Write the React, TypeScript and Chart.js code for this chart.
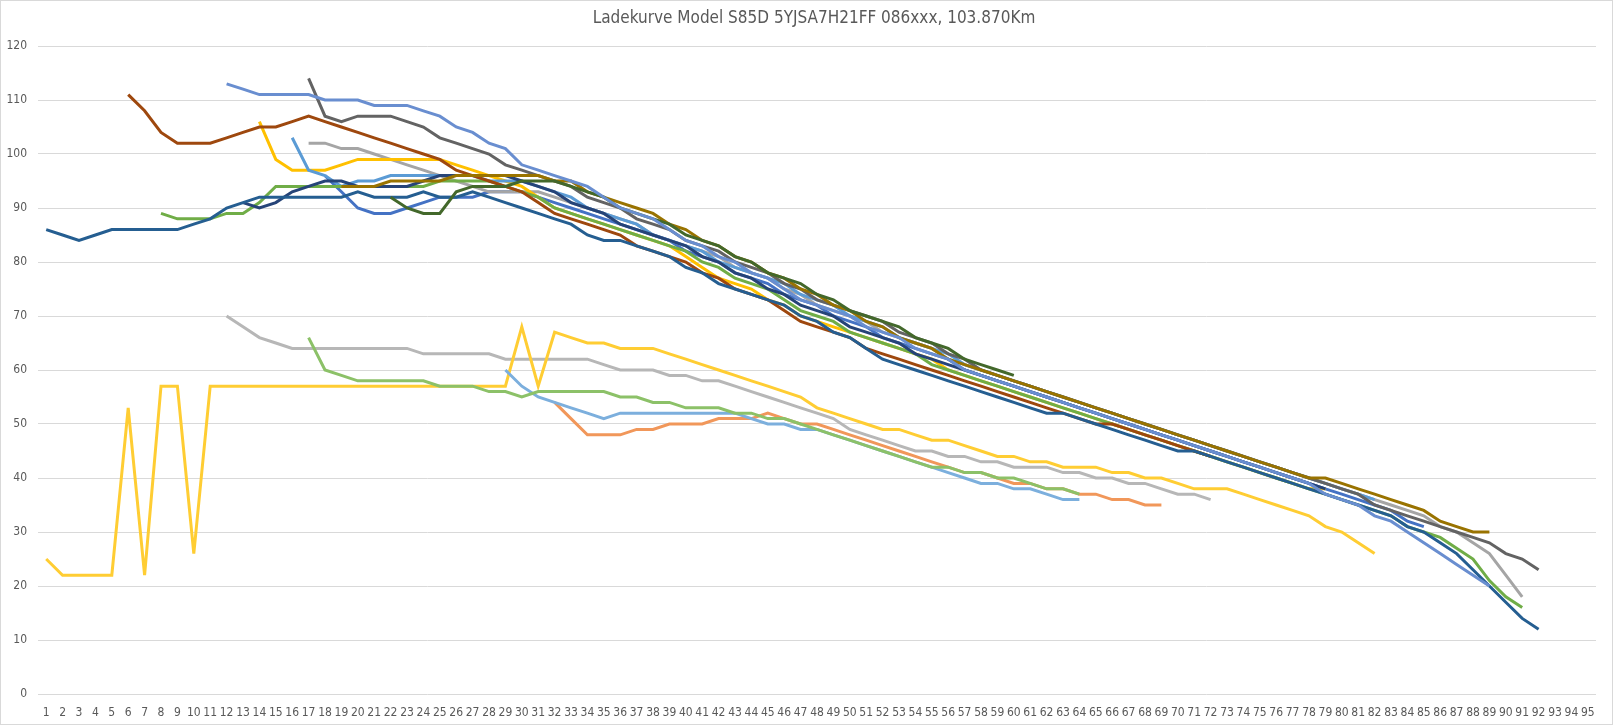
import React, { useEffect, useRef } from "react";
import Chart from "chart.js/auto";

const chartTitle = "Ladekurve Model S85D 5YJSA7H21FF 086xxx, 103.870Km";
const categories = Array.from({ length: 95 }, (_, i) => String(i + 1));
const fontFamily = "'Liberation Sans Narrow', 'DejaVu Sans Condensed', 'Liberation Sans', sans-serif";

// each curve: first category it appears in, then its values
const blueMidStart = 18;
const blueMid = [96, 93, 90, 89, 89, 90, 91, 92, 92, 92, 93, 93, 93, 92, 91, 90, 89, 88, 87, 86, 85, 84, 82, 81, 80, 78, 77, 76, 74, 73, 72, 70, 69, 68, 66, 65, 64, 63, 62, 60, 59, 58, 57, 56, 55, 54, 53, 52, 51, 50, 49, 48, 47, 46, 45, 44, 43, 42, 41, 40, 39, 38, 37, 36, 35, 34, 32, 31];

const grayTopStart = 17;
const grayTop = [102, 102, 101, 101, 100, 99, 98, 97, 96, 95, 94, 93, 93, 93, 93, 92, 91, 90, 89, 88, 87, 85, 84, 83, 82, 81, 79, 78, 77, 75, 74, 72, 71, 70, 69, 67, 66, 65, 64, 62, 61, 60, 59, 58, 57, 56, 55, 54, 53, 52, 51, 50, 49, 48, 47, 46, 45, 44, 43, 42, 41, 40, 39, 38, 37, 36, 35, 34, 33, 31, 30, 28, 26, 22, 18];

const yellowTopStart = 14;
const yellowTop = [106, 99, 97, 97, 97, 98, 99, 99, 99, 99, 99, 99, 98, 97, 96, 95, 94, 92, 90, 89, 88, 87, 86, 85, 84, 83, 81, 79, 77, 76, 75, 73, 72, 70, 69, 68, 67, 66, 65, 64, 63, 62, 60, 59, 58, 57, 56, 55, 54, 53, 52, 51, 50, 49, 48, 47, 46, 45, 44, 43, 42, 41, 40, 39, 38, 38];

const lightBlueStart = 16;
const lightBlue = [103, 97, 96, 94, 95, 95, 96, 96, 96, 96, 96, 96, 95, 95, 95, 94, 93, 92, 90, 89, 88, 87, 85, 84, 83, 82, 80, 79, 78, 77, 76, 74, 73, 72, 70, 69, 68, 66, 65, 64, 63, 61, 60, 59, 58, 57, 56, 55, 54, 53, 52, 51, 50, 49, 48, 47, 46, 45, 44, 43, 42, 41, 40, 39, 38, 37, 36];

const greenStart = 8;
const green = [89, 88, 88, 88, 89, 89, 91, 94, 94, 94, 94, 94, 94, 94, 94, 94, 94, 95, 95, 95, 95, 94, 93, 92, 90, 89, 88, 87, 86, 85, 84, 83, 82, 80, 79, 77, 76, 75, 73, 71, 70, 69, 67, 66, 65, 64, 63, 61, 60, 59, 58, 57, 56, 55, 54, 53, 52, 51, 50, 49, 48, 47, 46, 45, 44, 43, 42, 41, 40, 39, 38, 37, 36, 35, 34, 33, 31, 30, 29, 27, 25, 21, 18, 16];

const navyStart = 13;
const navy = [91, 90, 91, 93, 94, 95, 95, 94, 94, 94, 94, 95, 96, 96, 96, 96, 96, 95, 94, 93, 91, 90, 89, 87, 86, 85, 84, 83, 81, 80, 78, 77, 75, 74, 72, 71, 70, 68, 67, 66, 65, 63, 62, 61, 60, 59, 58, 57, 56, 55, 54, 53, 52, 51, 50, 49, 48, 47, 46, 45, 44, 43, 42, 41, 40, 39, 38];

const brownStart = 6;
const brown = [111, 108, 104, 102, 102, 102, 103, 104, 105, 105, 106, 107, 106, 105, 104, 103, 102, 101, 100, 99, 97, 96, 95, 94, 93, 91, 89, 88, 87, 86, 85, 83, 82, 81, 80, 78, 77, 75, 74, 73, 71, 69, 68, 67, 66, 64, 63, 62, 61, 60, 59, 58, 57, 56, 55, 54, 53, 52, 51, 50, 50, 49, 48, 47, 46, 45, 44];

const darkGrayStart = 17;
const darkGray = [114, 107, 106, 107, 107, 107, 106, 105, 103, 102, 101, 100, 98, 97, 96, 95, 94, 92, 91, 90, 88, 87, 86, 84, 83, 82, 80, 79, 78, 76, 75, 73, 72, 71, 70, 69, 67, 66, 65, 63, 62, 60, 59, 58, 57, 56, 55, 54, 53, 52, 51, 50, 49, 48, 47, 46, 45, 44, 43, 42, 41, 40, 39, 38, 37, 35, 34, 33, 32, 31, 30, 29, 28, 26, 25, 23];

const goldStart = 19;
const gold = [94, 94, 94, 95, 95, 95, 95, 96, 96, 96, 96, 96, 96, 95, 95, 93, 92, 91, 90, 89, 87, 86, 84, 83, 81, 80, 78, 77, 75, 74, 72, 71, 69, 68, 66, 65, 64, 62, 61, 60, 59, 58, 57, 56, 55, 54, 53, 52, 51, 50, 49, 48, 47, 46, 45, 44, 43, 42, 41, 40, 40, 39, 38, 37, 36, 35, 34, 32, 31, 30, 30];

const longBlueStart = 1;
const longBlue = [86, 85, 84, 85, 86, 86, 86, 86, 86, 87, 88, 90, 91, 92, 92, 92, 92, 92, 92, 93, 92, 92, 92, 93, 92, 92, 93, 92, 91, 90, 89, 88, 87, 85, 84, 84, 83, 82, 81, 79, 78, 76, 75, 74, 73, 72, 70, 69, 67, 66, 64, 62, 61, 60, 59, 58, 57, 56, 55, 54, 53, 52, 52, 51, 50, 49, 48, 47, 46, 45, 45, 44, 43, 42, 41, 40, 39, 38, 37, 36, 35, 34, 33, 31, 30, 28, 26, 23, 20, 17, 14, 12];

const darkGreenStart = 22;
const darkGreen = [92, 90, 89, 89, 93, 94, 94, 94, 95, 95, 95, 94, 93, 92, 90, 89, 88, 87, 85, 84, 83, 81, 80, 78, 77, 76, 74, 73, 71, 70, 69, 68, 66, 65, 64, 62, 61, 60, 59];

const blueTopStart = 12;
const blueTop = [113, 112, 111, 111, 111, 111, 110, 110, 110, 109, 109, 109, 108, 107, 105, 104, 102, 101, 98, 97, 96, 95, 94, 92, 90, 89, 88, 86, 84, 83, 81, 80, 78, 77, 75, 73, 72, 71, 70, 68, 67, 66, 64, 63, 62, 60, 59, 58, 57, 56, 55, 54, 53, 52, 51, 50, 49, 48, 47, 46, 45, 44, 43, 42, 41, 40, 39, 37, 36, 35, 33, 32, 30, 28, 26, 24, 22, 20];

const orangeLowStart = 32;
const orangeLow = [54, 51, 48, 48, 48, 49, 49, 50, 50, 50, 51, 51, 51, 52, 51, 50, 50, 49, 48, 47, 46, 45, 44, 43, 42, 41, 41, 40, 39, 39, 38, 38, 37, 37, 36, 36, 35, 35];

const grayLowStart = 12;
const grayLow = [70, 68, 66, 65, 64, 64, 64, 64, 64, 64, 64, 64, 63, 63, 63, 63, 63, 62, 62, 62, 62, 62, 62, 61, 60, 60, 60, 59, 59, 58, 58, 57, 56, 55, 54, 53, 52, 51, 49, 48, 47, 46, 45, 45, 44, 44, 43, 43, 42, 42, 42, 41, 41, 40, 40, 39, 39, 38, 37, 37, 36];

const yellowLowStart = 1;
const yellowLow = [25, 22, 22, 22, 22, 53, 22, 57, 57, 26, 57, 57, 57, 57, 57, 57, 57, 57, 57, 57, 57, 57, 57, 57, 57, 57, 57, 57, 57, 68, 57, 67, 66, 65, 65, 64, 64, 64, 63, 62, 61, 60, 59, 58, 57, 56, 55, 53, 52, 51, 50, 49, 49, 48, 47, 47, 46, 45, 44, 44, 43, 43, 42, 42, 42, 41, 41, 40, 40, 39, 38, 38, 38, 37, 36, 35, 34, 33, 31, 30, 28, 26];

const lightBlueLowStart = 29;
const lightBlueLow = [60, 57, 55, 54, 53, 52, 51, 52, 52, 52, 52, 52, 52, 52, 52, 51, 50, 50, 49, 49, 48, 47, 46, 45, 44, 43, 42, 41, 40, 39, 39, 38, 38, 37, 36, 36];

const greenLowStart = 17;
const greenLow = [66, 60, 59, 58, 58, 58, 58, 58, 57, 57, 57, 56, 56, 55, 56, 56, 56, 56, 56, 55, 55, 54, 54, 53, 53, 53, 52, 52, 51, 51, 50, 49, 48, 47, 46, 45, 44, 43, 42, 42, 41, 41, 40, 40, 39, 38, 38, 37];

const series = [
  { name: "Ladung 1", color: "#4472C4", start: blueMidStart, values: blueMid },
  { name: "Ladung 2", color: "#A5A5A5", start: grayTopStart, values: grayTop },
  { name: "Ladung 3", color: "#FFC000", start: yellowTopStart, values: yellowTop },
  { name: "Ladung 4", color: "#5B9BD5", start: lightBlueStart, values: lightBlue },
  { name: "Ladung 5", color: "#70AD47", start: greenStart, values: green },
  { name: "Ladung 6", color: "#264478", start: navyStart, values: navy },
  { name: "Ladung 7", color: "#9E480E", start: brownStart, values: brown },
  { name: "Ladung 8", color: "#636363", start: darkGrayStart, values: darkGray },
  { name: "Ladung 9", color: "#997300", start: goldStart, values: gold },
  { name: "Ladung 10", color: "#255E91", start: longBlueStart, values: longBlue },
  { name: "Ladung 11", color: "#43682B", start: darkGreenStart, values: darkGreen },
  { name: "Ladung 12", color: "#698ED0", start: blueTopStart, values: blueTop },
  { name: "Ladung 13", color: "#F1975A", start: orangeLowStart, values: orangeLow },
  { name: "Ladung 14", color: "#B7B7B7", start: grayLowStart, values: grayLow },
  { name: "Ladung 15", color: "#FFCD33", start: yellowLowStart, values: yellowLow },
  { name: "Ladung 16", color: "#7CAFDD", start: lightBlueLowStart, values: lightBlueLow },
  { name: "Ladung 17", color: "#8CC168", start: greenLowStart, values: greenLow },
];

// put each curve's values at the right category, nulls elsewhere
function placeValues(start: number, values: number[]) {
  return categories.map((_, i) => {
    const k = i + 1 - start;
    return k >= 0 && k < values.length ? values[k] : null;
  });
}

// white background, thin chart border and the title (Excel centres it a bit right of the plot)
const frame = {
  id: "frame",
  beforeDraw(chart: any) {
    const { ctx, width, height } = chart;
    ctx.save();
    ctx.fillStyle = "#FFFFFF";
    ctx.fillRect(0, 0, width, height);
    ctx.restore();
  },
  afterDraw(chart: any) {
    const { ctx, width, height } = chart;
    ctx.save();
    ctx.strokeStyle = "#D9D9D9";
    ctx.lineWidth = 1;
    ctx.strokeRect(0.5, 0.5, width - 1, height - 1);
    ctx.fillStyle = "#595959";
    ctx.font = `17px ${fontFamily}`;
    ctx.textAlign = "center";
    ctx.textBaseline = "middle";
    ctx.fillText(chartTitle, 814, 19);
    ctx.restore();
  },
};

const App: React.FC = () => {
  const chartRef = useRef<HTMLCanvasElement | null>(null);

  useEffect(() => {
    document.body.style.margin = "0";
    if (!chartRef.current) return;
    const ctx = chartRef.current.getContext("2d");
    if (!ctx) return;

    const myChart = new Chart(ctx, {
      type: "line",
      data: {
        labels: categories,
        datasets: series.map((s, i) => ({
          label: s.name,
          data: placeValues(s.start, s.values),
          borderColor: s.color,
          backgroundColor: s.color,
          borderWidth: 3,
          pointRadius: 0,
          pointHoverRadius: 0,
          tension: 0,
          fill: false,
          spanGaps: false,
          order: series.length - i,
        })),
      },
      options: {
        responsive: false,
        animation: false,
        devicePixelRatio: 1,
        layout: { padding: { left: 0, right: 17, top: 46, bottom: 0 } },
        plugins: {
          legend: { display: false },
          tooltip: { enabled: false },
          title: { display: false },
        },
        scales: {
          x: {
            offset: true,
            grid: { display: false },
            border: { display: false },
            ticks: {
              autoSkip: false,
              maxRotation: 0,
              minRotation: 0,
              color: "#595959",
              padding: 4,
              font: { family: fontFamily, size: 12 },
            },
            afterFit: (scale: any) => {
              scale.height = 31;
            },
          },
          y: {
            min: 0,
            max: 120,
            grid: { color: "#D9D9D9", lineWidth: 1, drawTicks: false },
            border: { display: false },
            ticks: {
              stepSize: 10,
              color: "#595959",
              padding: 11,
              font: { family: fontFamily, size: 12 },
            },
            afterFit: (scale: any) => {
              scale.width = 38;
            },
          },
        },
      },
      plugins: [frame],
    });

    return () => {
      myChart.destroy();
    };
  }, []);

  return <canvas ref={chartRef} width={1613} height={725} />;
};

export default App;
